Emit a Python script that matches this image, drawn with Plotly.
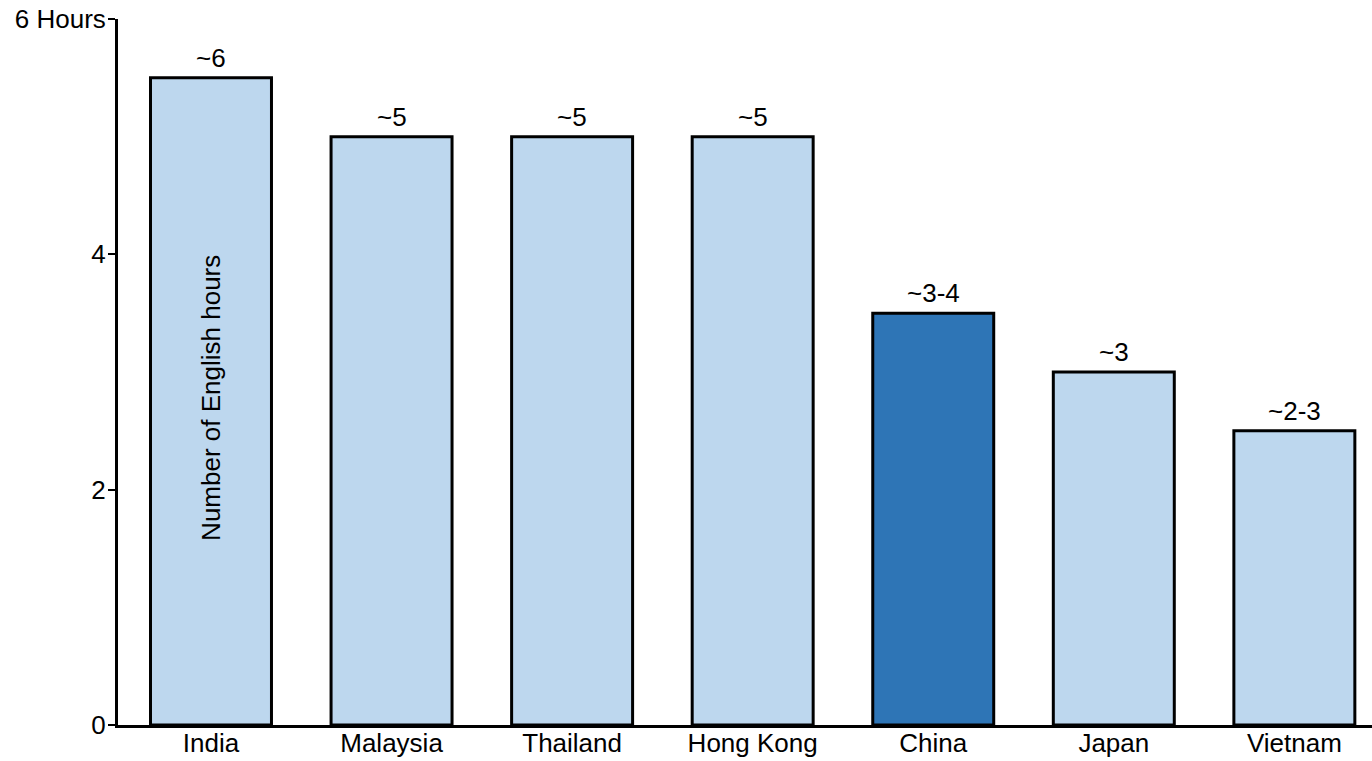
import plotly.graph_objects as go

countries = ["India", "Malaysia", "Thailand", "Hong Kong", "China", "Japan", "Vietnam"]
hours = [5.5, 5.0, 5.0, 5.0, 3.5, 3.0, 2.5]
labels = ["~6", "~5", "~5", "~5", "~3-4", "~3", "~2-3"]
highlight = "China"
ytick_vals = [0, 2, 4, 6]
ytick_text = ["0", "2", "4", "6 Hours"]
inner_label = "Number of English hours"

light = "#BDD7EE"
dark = "#2E75B6"
colors = [dark if c == highlight else light for c in countries]
FONT = "Liberation Sans, Arial, sans-serif"
FS = 26

fig = go.Figure()
fig.add_trace(go.Bar(
    x=list(range(len(countries))), y=hours,
    marker=dict(color=colors, line=dict(color="black", width=3)),
    width=0.67,
    hoverinfo="skip",
))

for i, (h, t) in enumerate(zip(hours, labels)):
    fig.add_annotation(x=i, y=h, text=t, showarrow=False, yanchor="bottom", yshift=3,
                       font=dict(size=FS, color="black", family=FONT))

fig.add_annotation(x=0, y=2.78, text=inner_label, textangle=-90, showarrow=False,
                   font=dict(size=FS, color="black", family=FONT))

fig.update_layout(
    width=1372, height=761,
    margin=dict(l=118, r=0, t=19, b=36, pad=0, autoexpand=False),
    plot_bgcolor="white", paper_bgcolor="white",
    showlegend=False,
    font=dict(family=FONT, size=FS, color="black"),
)
fig.update_xaxes(
    range=[-0.515, 6.43],
    tickvals=list(range(len(countries))), ticktext=countries,
    showline=True, linecolor="black", linewidth=3,
    ticks="", showgrid=False, zeroline=False, automargin=False,
    tickfont=dict(size=FS), ticklabelstandoff=-7,
)
fig.update_yaxes(
    range=[0, 6],
    tickvals=ytick_vals, ticktext=ytick_text,
    showline=True, linecolor="black", linewidth=3,
    ticks="outside", ticklen=7, tickwidth=2, tickcolor="black",
    showgrid=False, zeroline=False, automargin=False,
    tickfont=dict(size=FS), ticklabelstandoff=-3,
)

fig.write_html("out.html")
